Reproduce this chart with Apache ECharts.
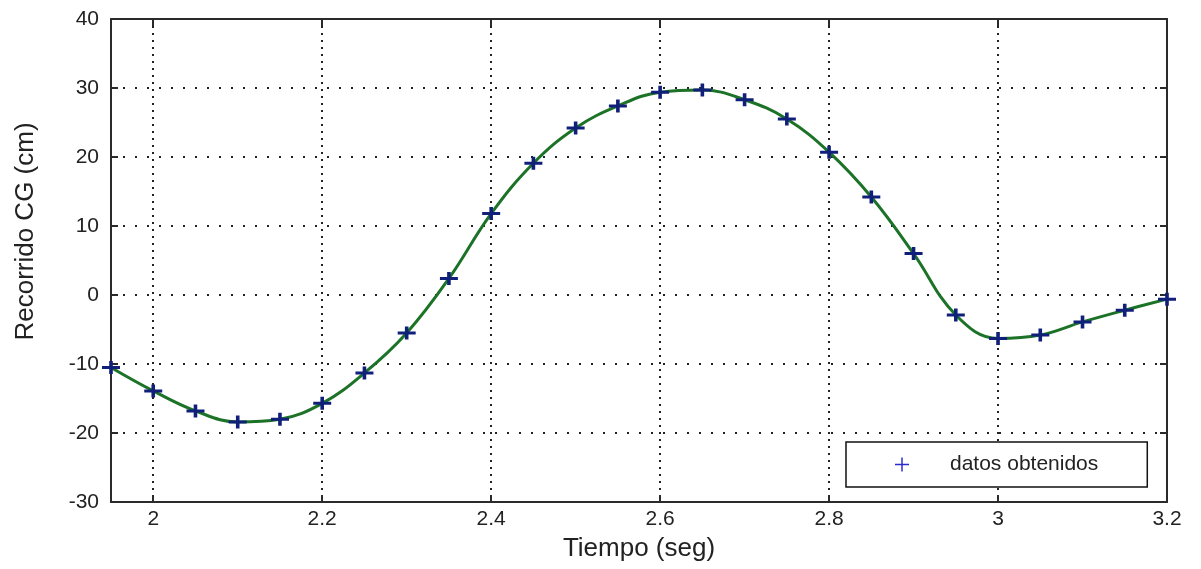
<!DOCTYPE html>
<html>
<head>
<meta charset="utf-8">
<script src="https://cdn.jsdelivr.net/npm/echarts@6/dist/echarts.min.js"></script>
<style>
  html, body { margin: 0; padding: 0; background: #fff; }
  #chart { width: 1201px; height: 569px; }
</style>
</head>
<body>
<div id="chart"></div>
<script>
// sampled instants (s)
const tiempo = [1.95, 2.00, 2.05, 2.10, 2.15, 2.20, 2.25, 2.30, 2.35, 2.40, 2.45, 2.50, 2.55,
                2.60, 2.65, 2.70, 2.75, 2.80, 2.85, 2.90, 2.95, 3.00, 3.05, 3.10, 3.15, 3.20];
// CG displacement (cm)
const recorrido = [-10.5, -13.9, -16.8, -18.4, -18.0, -15.7, -11.3, -5.5, 2.4, 11.8, 19.1, 24.2, 27.4,
                   29.4, 29.7, 28.3, 25.5, 20.7, 14.2, 6.0, -2.9, -6.3, -5.8, -3.9, -2.2, -0.6];
// tick labels on the time axis
const xTicks = [2.0, 2.2, 2.4, 2.6, 2.8, 3.0, 3.2];

const puntos = tiempo.map((t, i) => [t, recorrido[i]]);

const plusThick = 'path://M0,5h18v3h-18z M7.2,0h3.6v13h-3.6z';
const plusThin = 'path://M6,0h1.4v13.4h-1.4z M0,6h13.4v1.4h-13.4z';

const chart = echarts.init(document.getElementById('chart'));

const axisColor = '#2a2a2a';
const labelFont = { fontFamily: 'Liberation Sans', fontSize: 21, color: '#222' };

chart.setOption({
  animation: false,
  grid: { left: 111, right: 34, top: 19, bottom: 67 },
  legend: {
    left: 846,
    top: 442,
    padding: [12, 49, 12, 49],
    borderColor: '#111',
    borderWidth: 1.5,
    borderRadius: 0,
    backgroundColor: '#fff',
    itemWidth: 14,
    itemHeight: 14,
    selectedMode: false,
    textStyle: { fontFamily: 'Liberation Sans', fontSize: 21, color: '#222', padding: [0, 0, 0, 36] },
    data: [{ name: 'datos obtenidos', icon: plusThin, itemStyle: { color: '#2a2ad0' } }]
  },
  xAxis: [
    {
      type: 'value',
      min: 1.95,
      max: 3.2,
      name: 'Tiempo (seg)',
      nameLocation: 'middle',
      nameGap: 34,
      nameTextStyle: { fontFamily: 'Liberation Sans', fontSize: 26, color: '#222' },
      axisLine: { show: true, onZero: false, lineStyle: { color: axisColor, width: 2 } },
      axisTick: { show: true, inside: true, length: 7, customValues: xTicks, lineStyle: { color: axisColor, width: 2 } },
      axisLabel: Object.assign({ margin: 7, customValues: xTicks, formatter: v => String(+v.toFixed(1)) }, labelFont),
      splitLine: { show: true, lineStyle: { color: '#222', width: 2, type: [2, 5] } }
    },
    {
      type: 'value',
      position: 'top',
      min: 1.95,
      max: 3.2,
      axisLine: { show: true, onZero: false, lineStyle: { color: axisColor, width: 2 } },
      axisTick: { show: true, inside: true, length: 7, customValues: xTicks, lineStyle: { color: axisColor, width: 2 } },
      axisLabel: { show: false },
      splitLine: { show: false }
    }
  ],
  yAxis: [
    {
      type: 'value',
      min: -30,
      max: 40,
      interval: 10,
      name: 'Recorrido CG (cm)',
      nameLocation: 'middle',
      nameGap: 72,
      nameTextStyle: { fontFamily: 'Liberation Sans', fontSize: 26, color: '#222', padding: [0, 0, 0, 58] },
      axisLine: { show: true, onZero: false, lineStyle: { color: axisColor, width: 2 } },
      axisTick: { show: true, inside: true, length: 7, lineStyle: { color: axisColor, width: 2 } },
      axisLabel: Object.assign({ margin: 12 }, labelFont),
      splitLine: { show: true, lineStyle: { color: '#222', width: 2, type: [2, 10] } }
    },
    {
      type: 'value',
      position: 'right',
      min: -30,
      max: 40,
      interval: 10,
      axisLine: { show: true, onZero: false, lineStyle: { color: axisColor, width: 2 } },
      axisTick: { show: true, inside: true, length: 7, lineStyle: { color: axisColor, width: 2 } },
      axisLabel: { show: false },
      splitLine: { show: false }
    }
  ],
  series: [
    {
      // fitted curve
      type: 'line',
      data: puntos,
      smooth: 0.4,
      showSymbol: false,
      lineStyle: { color: '#1c7328', width: 3 },
      silent: true
    },
    {
      name: 'datos obtenidos',
      type: 'scatter',
      data: puntos,
      symbol: plusThick,
      symbolSize: [18, 13],
      clip: false,
      itemStyle: { color: '#10207a', opacity: 1 },
      z: 3
    }
  ]
});
</script>
</body>
</html>
